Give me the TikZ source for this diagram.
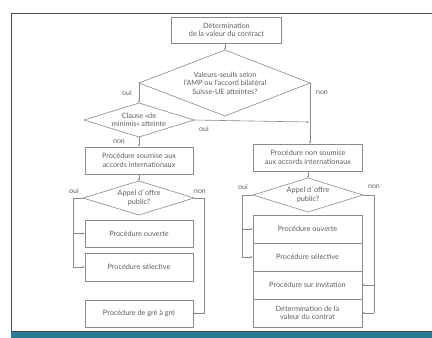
\documentclass[tikz,border=0pt]{standalone}
\usepackage{fontspec}
\setmainfont{Lato}
\usetikzlibrary{arrows.meta,calc}
\definecolor{ln}{HTML}{8A8A8A}
\definecolor{tx}{HTML}{5E5E5E}
\definecolor{teal}{HTML}{2B7A93}
\begin{document}
\begin{tikzpicture}[x=1pt,y=-1pt,
  every node/.style={font=\fontsize{7.3}{8.6}\selectfont, text=tx},
  box/.style={draw=ln, line width=0.6pt, minimum width=#1, minimum height=27pt, inner sep=1pt, align=center},
  box/.default=109pt,
  dia/.style={draw=ln, line width=0.6pt},
  con/.style={draw=ln, line width=0.6pt, -{Stealth[length=2.5pt,width=2pt]}},
  lnk/.style={draw=ln, line width=0.6pt},
  lab/.style={font=\fontsize{7}{8}\selectfont}]
\useasboundingbox (0,0) rectangle (432,338);
% frame
\draw[draw=black!70, line width=1pt] (11,338) -- (11,13) -- (432,13);
\fill[teal] (11,331.5) rectangle (432,338);
\draw[black!70, line width=0.6pt] (11,331.5) -- (432,331.5);

% top box
\node[box=110pt, minimum height=26pt] (top) at (226.5,30) {Détermination\\de la valeur du contract};
% big diamond
\coordinate (bdT) at (225,50);
\coordinate (bdL) at (139,83);
\coordinate (bdR) at (310,83);
\coordinate (bdB) at (225,116);
\draw[dia] (bdT) -- (bdR) -- (bdB) -- (bdL) -- cycle;
\node[align=center] (bdtext) at (225,83) {Valeurs-seuils selon\\l’AMP ou l’accord bilatéral\\Suisse-UE atteintes?};
\draw[con] (top.south -| bdT) -- (bdT);
\node[lab] (oui1) at (127,93) {oui};
\node[lab] (non1) at (322,93) {non};

% small diamond
\coordinate (sdT) at (139,103);
\coordinate (sdL) at (84,120);
\coordinate (sdR) at (194,120);
\coordinate (sdB) at (139,137);
\draw[dia] (sdT) -- (sdR) -- (sdB) -- (sdL) -- cycle;
\node[align=center] (sdtext) at (139,120) {Clause «de\\minimis» atteinte};
\draw[con] (bdL) -- (sdT);
\node[lab] (oui2) at (204,129) {oui};
\node[lab] (non2) at (119,142) {non};

% left box
\node[box=108pt] (lbox) at (139,160.5) {Procédure soumise aux\\accords internationaux};
\draw[con] (sdB) -- (lbox.north);

% right branch
\node[box=109pt] (rbox) at (308,157.5) {Procédure non soumise\\aux accords internationaux};
\coordinate (rj) at (309,122);
\draw[con] (sdR) -- (rj);
\draw[con] (bdR) -- (bdR |- rbox.north);

% left appel diamond
\coordinate (ldT) at (139,181);
\coordinate (ldL) at (83,198);
\coordinate (ldR) at (194,198);
\coordinate (ldB) at (139,215);
\draw[dia] (ldT) -- (ldR) -- (ldB) -- (ldL) -- cycle;
\node[align=center] (ldtext) at (139,198) {Appel d´offre\\public?};
\draw[con] (lbox.south) -- (ldT);
\node[lab] (oui3) at (74,191) {oui};
\node[lab] (non3) at (200,192) {non};

% left procedures
\node[box=108pt] (lpo) at (139,233.5) {Procédure ouverte};
\node[box=108pt, minimum height=28pt] (lps) at (139,267) {Procédure sélective};
\node[box=108pt] (lpg) at (139,313.5) {Procédure de gré à gré};
\coordinate (lx) at (73,198);
\draw[lnk] (ldL) -- (lx) -- (73,267);
\draw[con] (73,233.5) -- (lpo.west);
\draw[con] (73,267) -- (lps.west);
\coordinate (rx) at (204,198);
\draw[lnk] (ldR) -- (rx) -- (204,313.5);
\draw[con] (204,313.5) -- (lpg.east);

% right appel diamond
\coordinate (rdT) at (308,178);
\coordinate (rdL) at (253,195);
\coordinate (rdR) at (363,195);
\coordinate (rdB) at (308,212);
\draw[dia] (rdT) -- (rdR) -- (rdB) -- (rdL) -- cycle;
\node[align=center] (rdtext) at (308,195) {Appel d´offre\\public?};
\draw[con] (rbox.south) -- (rdT);
\node[lab] (oui4) at (243,187) {oui};
\node[lab] (non4) at (374,187) {non};

% right procedures
\node[box=109pt, minimum height=28pt] (rpo) at (307.5,229) {Procédure ouverte};
\node[box=109pt, minimum height=28pt] (rps) at (307.5,257) {Procédure sélective};
\node[box=109pt, minimum height=28pt] (rpi) at (307.5,285) {Procédure sur invitation};
\node[box=109pt, minimum height=28pt] (rpd) at (307.5,313) {Détermination de la\\valeur du contrat};
\draw[lnk] (rdL) -- (242,195) -- (242,257);
\draw[con] (242,229) -- (rpo.west);
\draw[con] (242,257) -- (rps.west);
\draw[lnk] (rdR) -- (374,195) -- (374,313);
\draw[con] (374,285) -- (rpi.east);
\draw[con] (374,313) -- (rpd.east);
\end{tikzpicture}
\end{document}
